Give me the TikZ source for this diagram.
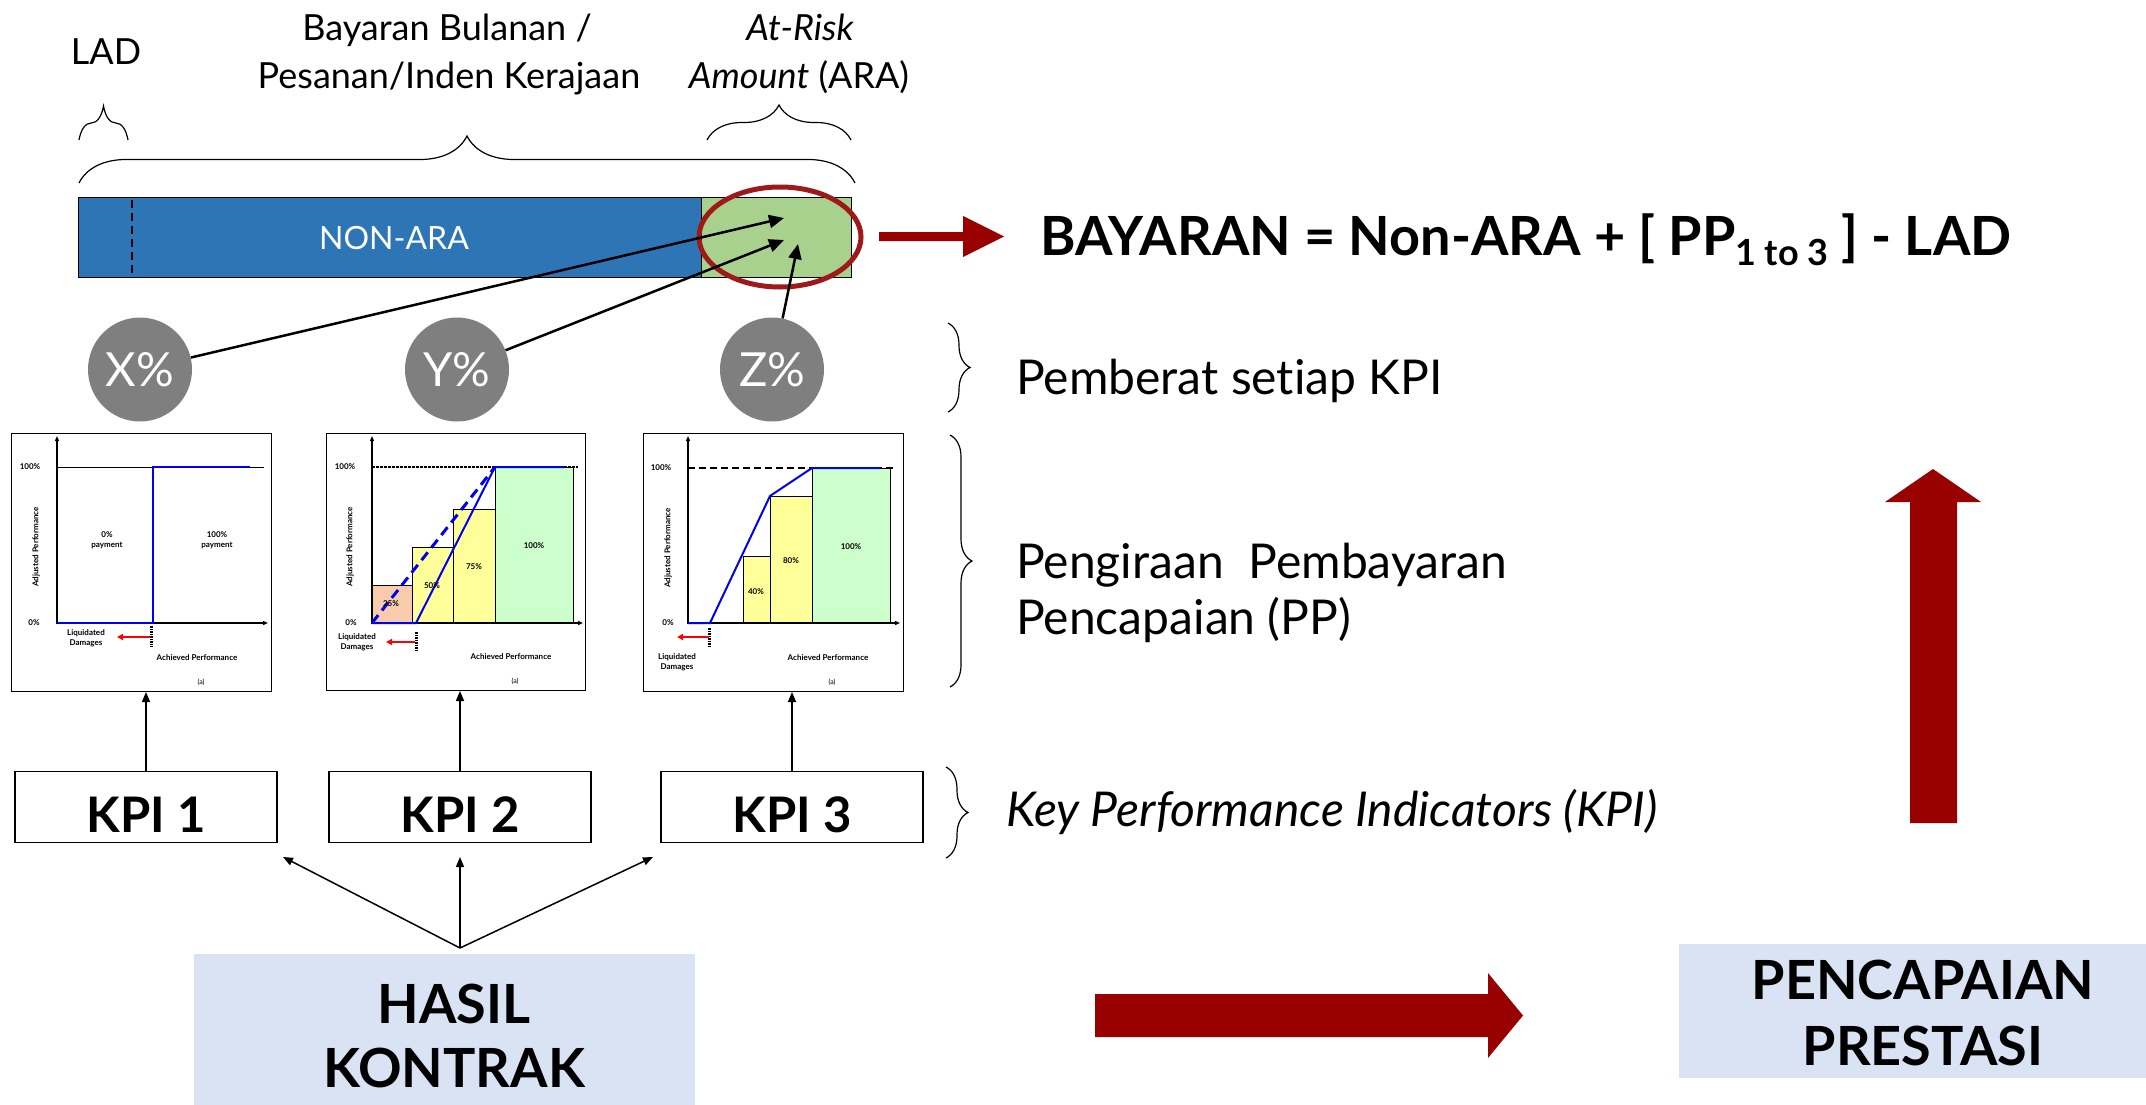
\documentclass[tikz,border=0pt]{standalone}
\usepackage{fontspec}
\setmainfont{Lato}[Ligatures=NoCommon]
\usetikzlibrary{arrows.meta,decorations.pathreplacing,shapes.geometric}
\definecolor{barblue}{RGB}{46,117,182}
\definecolor{bargreen}{RGB}{169,209,142}
\definecolor{darkred}{RGB}{153,0,0}
\definecolor{ellred}{RGB}{158,26,26}
\definecolor{circgray}{RGB}{127,127,127}
\definecolor{boxblue}{RGB}{218,227,243}
\definecolor{barorange}{RGB}{248,203,173}
\definecolor{baryellow}{RGB}{255,255,153}
\definecolor{barlgreen}{RGB}{204,255,204}
\definecolor{lineblue}{RGB}{0,0,240}
\newcommand{\fsz}[2]{\fontsize{#1}{#2}\selectfont}
\tikzset{
  toptxt/.style={font=\fsz{36}{43}, anchor=base, inner sep=0},
  sidetxt/.style={font=\fsz{48}{58}, anchor=base west, inner sep=0},
  bigtxt/.style={font=\bfseries\fsz{54}{64}, anchor=base, inner sep=0},
  curly/.style={decorate, decoration={brace, amplitude=#1}, line width=1.2pt},
  wcircle/.style={circle, fill=circgray, minimum size=104pt, inner sep=0, text=white, font=\fsz{47}{56}},
  warrow/.style={line width=2.5pt, -{Triangle[length=15pt,width=13pt]}},
  kparrow/.style={line width=1.5pt, -{Triangle[length=10pt,width=8pt]}},
  kpibox/.style={draw=black, line width=1.5pt, minimum width=262pt, minimum height=71pt, inner sep=0, text height=50pt, text depth=0pt, font=\bfseries\fsz{49}{58}},
  chartframe/.style={draw=black, line width=1pt, anchor=north west, inner sep=0},
  axis/.style={line width=2pt, -{Triangle[length=5pt,width=4pt]}},
  ctxt/.style={font=\bfseries\fsz{8}{9.5}, align=center, inner sep=0},
  atxt/.style={font=\fsz{7}{8}, inner sep=0},
  bluel/.style={draw=lineblue, line width=2pt},
  tickmark/.style={line width=3pt, dash pattern=on 1.5pt off 1pt},
  redar/.style={draw=red, line width=2.5pt, -{Triangle[length=6pt,width=6pt]}},
  barbox/.style={draw=black, line width=1pt},
  fatred/.style={fill=darkred, draw=none}
}
\begin{document}
\begin{tikzpicture}[x=1pt,y=1pt]
\useasboundingbox (0,0) rectangle (2146,-1105);

% ---------------- top labels ----------------
\node[toptxt] (lad) at (106,-65) {LAD};
\node[toptxt] (bay1) at (447,-41) {Bayaran Bulanan /};
\node[toptxt] (bay2) at (449,-89) {Pesanan/Inden Kerajaan};
\node[toptxt] (ara1) at (800,-41) {\itshape At-Risk};
\node[toptxt] (ara2) at (799,-89) {\textit{Amount} (ARA)};

% braces
\coordinate (bl1) at (79,-140); \coordinate (bl2) at (128,-140);
\draw[curly=34pt] (bl1) -- (bl2);
\coordinate (bb1) at (79,-183); \coordinate (bb2) at (855,-183);
\draw[curly=47pt] (bb1) -- (bb2);
\coordinate (ba1) at (707,-140); \coordinate (ba2) at (851,-140);
\draw[curly=35pt] (ba1) -- (ba2);

% ---------------- bar ----------------
\node[fill=barblue, draw=black, line width=1pt, minimum width=623.5pt, minimum height=80pt, anchor=north west, inner sep=0] (nonara) at (77.5,-197) {};
\node[fill=bargreen, draw=black, line width=1pt, minimum width=150pt, minimum height=80pt, anchor=north west, inner sep=0] (ara) at (701,-197) {};
\coordinate (dl1) at (132,-200); \coordinate (dl2) at (132,-275);
\draw[line width=2.5pt, dash pattern=on 8pt off 5pt] (dl1) -- (dl2);
\node[font=\fsz{32}{38}, text=white, inner sep=0] (nonaratxt) at (394,-238) {NON-ARA};

\node[draw=ellred, line width=5pt, ellipse, minimum width=162pt, minimum height=100pt, inner sep=0] (ell) at (780,-237) {};

% circles
\node[wcircle] (cx) at (140,-369.5) {X\%};
\node[wcircle] (cy) at (457,-369.5) {Y\%};
\node[wcircle] (cz) at (772,-369.5) {Z\%};
\coordinate (t1) at (784,-218);
\coordinate (t2) at (784,-240);
\coordinate (t3) at (798,-244);
\draw[warrow] (cx) -- (t1);
\draw[warrow] (cy) -- (t2);
\draw[warrow] (cz) -- (t3);

% red arrow to formula
\fill[fatred] (879,-232) -- (963,-232) -- (963,-216) -- (1004,-236.5) -- (963,-257) -- (963,-241) -- (879,-241) -- cycle;
\node[bigtxt] (formula) at (1526,-255) {BAYARAN = Non-ARA + [ PP\raisebox{-10pt}{\fsz{36}{40}1 to 3} ] - LAD};

% ---------------- right side texts ----------------
\coordinate (rb1a) at (948,-323); \coordinate (rb1b) at (948,-412);
\draw[curly=22pt] (rb1a) -- (rb1b);
\node[sidetxt] (pemberat) at (1016,-394) {Pemberat setiap KPI};
\coordinate (rb2a) at (950,-435); \coordinate (rb2b) at (950,-687);
\draw[curly=22pt] (rb2a) -- (rb2b);
\node[sidetxt] (peng1) at (1016,-578) {Pengiraan\ \ Pembayaran};
\node[sidetxt] (peng2) at (1016,-634) {Pencapaian (PP)};
\coordinate (rb3a) at (946,-767); \coordinate (rb3b) at (946,-858);
\draw[curly=22pt] (rb3a) -- (rb3b);
\node[sidetxt] (kpitxt) at (1006,-826) {\itshape Key Performance Indicators (KPI)};

% big up arrow
\fill[fatred] (1910,-823) -- (1910,-502) -- (1885,-502) -- (1933,-469) -- (1981,-502) -- (1957,-502) -- (1957,-823) -- cycle;

% ---------------- chart 1 ----------------
\node[chartframe, minimum width=260pt, minimum height=258pt] (c1) at (11,-433) {};
\draw[line width=1pt] (57,-467) -- (264,-467);
\draw[axis] (57,-624) -- (57,-436);
\draw[axis] (57,-623) -- (268,-623);
\draw[bluel] (57,-623) -- (153,-623) -- (153,-467) -- (250,-467);
\node[ctxt] (c1a) at (30,-467) {100\%};
\node[ctxt] (c1b) at (34,-623) {0\%};
\node[ctxt] (c1c) at (107,-540) {0\%\\payment};
\node[ctxt] (c1d) at (217,-540) {100\%\\payment};
\node[ctxt, rotate=90] (c1e) at (36,-547) {Adjusted Performance};
\draw[tickmark] (151,-626) -- (151,-647);
\draw[redar] (150,-637) -- (117,-637);
\node[ctxt] (c1f) at (86,-638) {Liquidated\\Damages};
\node[ctxt] (c1g) at (197,-658) {Achieved\ Performance};
\node[atxt] (c1h) at (201,-682) {(a)};

% ---------------- chart 2 ----------------
\node[chartframe, minimum width=259pt, minimum height=257pt] (c2) at (326,-433) {};
\draw[barbox, fill=barorange] (371,-623) rectangle (412,-585);
\draw[barbox, fill=baryellow] (412,-623) rectangle (453,-547);
\draw[barbox, fill=baryellow] (453,-623) rectangle (495,-509);
\draw[barbox, fill=barlgreen] (495,-623) rectangle (573,-467);
\draw[line width=1.5pt, dash pattern=on 3pt off 1pt] (372,-467) -- (578,-467);
\draw[axis] (372,-624) -- (372,-436);
\draw[axis] (372,-623) -- (583,-623);
\draw[draw=lineblue, line width=3pt, dash pattern=on 10pt off 6pt] (372,-623) -- (495,-467);
\draw[bluel] (372,-623) -- (416,-623) -- (495,-467) -- (564,-467);
\node[ctxt] (c2a) at (345,-467) {100\%};
\node[ctxt] (c2b) at (351,-623) {0\%};
\node[ctxt] (c2c) at (391,-604) {25\%};
\node[ctxt] (c2d) at (432,-586) {50\%};
\node[ctxt] (c2e) at (474,-567) {75\%};
\node[ctxt] (c2f) at (534,-546) {100\%};
\node[ctxt, rotate=90] (c2g) at (350,-547) {Adjusted Performance};
\draw[tickmark] (416,-632) -- (416,-650);
\draw[redar] (415,-642) -- (386,-642);
\node[ctxt] (c2h) at (357,-642) {Liquidated\\Damages};
\node[ctxt] (c2i) at (511,-657) {Achieved\ Performance};
\node[atxt] (c2j) at (515,-681) {(a)};

% ---------------- chart 3 ----------------
\node[chartframe, minimum width=260pt, minimum height=258pt] (c3) at (643,-433) {};
\draw[barbox, fill=baryellow] (743,-623) rectangle (770,-556);
\draw[barbox, fill=baryellow] (770,-623) rectangle (812,-496);
\draw[barbox, fill=barlgreen] (812,-623) rectangle (890,-468);
\draw[line width=1.5pt, dash pattern=on 7pt off 4pt] (688,-468) -- (896,-468);
\draw[axis] (688,-624) -- (688,-436);
\draw[axis] (688,-623) -- (900,-623);
\draw[bluel] (688,-623) -- (710,-623) -- (770,-496) -- (812,-468) -- (881,-468);
\node[ctxt] (c3a) at (661,-468) {100\%};
\node[ctxt] (c3b) at (668,-623) {0\%};
\node[ctxt] (c3c) at (756,-592) {40\%};
\node[ctxt] (c3d) at (791,-561) {80\%};
\node[ctxt] (c3e) at (851,-547) {100\%};
\node[ctxt, rotate=90] (c3f) at (668,-548) {Adjusted Performance};
\draw[tickmark] (709,-628) -- (709,-646);
\draw[redar] (709,-637) -- (677,-637);
\node[ctxt] (c3g) at (677,-662) {Liquidated\\Damages};
\node[ctxt] (c3h) at (828,-658) {Achieved\ Performance};
\node[atxt] (c3i) at (832,-682) {(a)};

% ---------------- KPI boxes ----------------
\node[kpibox] (k1) at (146,-807) {KPI 1};
\node[kpibox] (k2) at (460,-807) {KPI 2};
\node[kpibox] (k3) at (792,-807) {KPI 3};
\draw[kparrow] (k1.north) -- (k1.north |- c1.south);
\draw[kparrow] (k2.north) -- (k2.north |- c2.south);
\draw[kparrow] (k3.north) -- (k3.north |- c3.south);

% ---------------- HASIL KONTRAK ----------------
\node[fill=boxblue, minimum width=501pt, minimum height=151pt, anchor=north west, inner sep=0] (hasil) at (194,-954) {};
\node[bigtxt] (hasil1) at (454,-1023) {HASIL};
\node[bigtxt] (hasil2) at (454,-1087) {KONTRAK};
\coordinate (hv) at (460,-948);
\coordinate (h1) at (283,-857);
\coordinate (h2) at (460,-857);
\coordinate (h3) at (653,-857);
\draw[kparrow] (hv) -- (h1);
\draw[kparrow] (hv) -- (h2);
\draw[kparrow] (hv) -- (h3);

% bottom red arrow
\fill[fatred] (1095,-994) -- (1488,-994) -- (1488,-973) -- (1523,-1015.5) -- (1488,-1058) -- (1488,-1037) -- (1095,-1037) -- cycle;

% ---------------- PENCAPAIAN PRESTASI ----------------
\node[fill=boxblue, minimum width=467pt, minimum height=134pt, anchor=north west, inner sep=0] (pp) at (1679,-944) {};
\node[bigtxt] (pp1) at (1923,-999) {PENCAPAIAN};
\node[bigtxt] (pp2) at (1923,-1065) {PRESTASI};
\end{tikzpicture}
\end{document}
